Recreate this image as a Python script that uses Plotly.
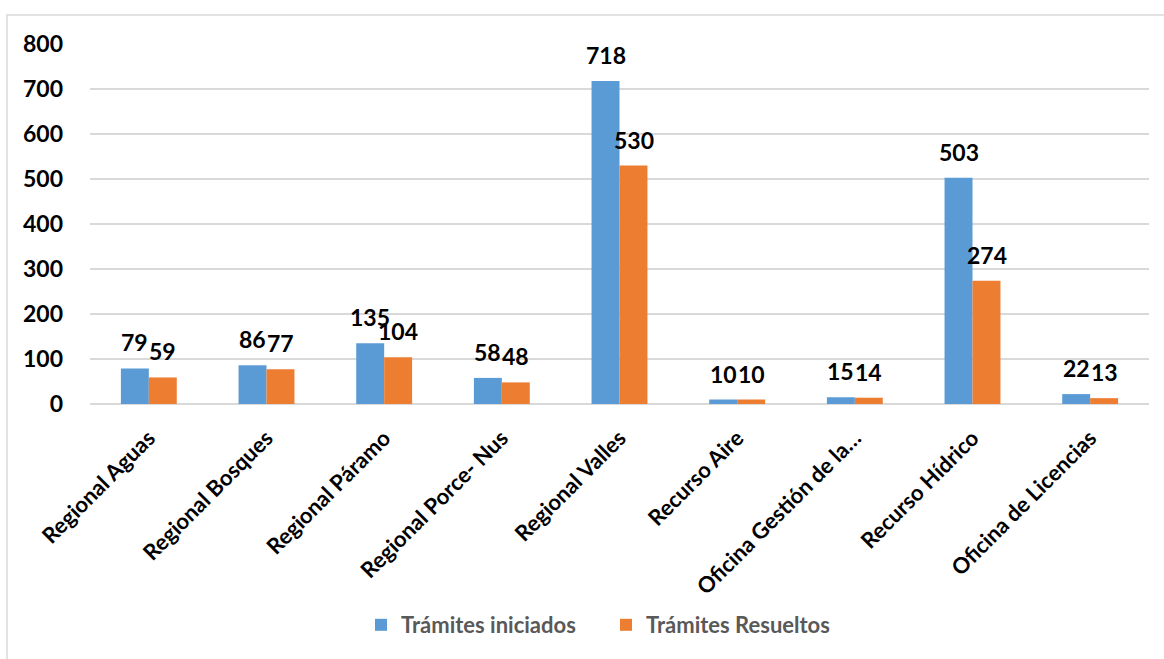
import plotly.graph_objects as go

categories = ["Regional Aguas", "Regional Bosques", "Regional Páramo", "Regional Porce- Nus",
              "Regional Valles", "Recurso Aire", "Oficina Gestión de la…", "Recurso Hídrico",
              "Oficina de Licencias"]
iniciados = [79, 86, 135, 58, 718, 10, 15, 503, 22]
resueltos = [59, 77, 104, 48, 530, 10, 14, 274, 13]
series_names = ["Trámites iniciados", "Trámites Resueltos"]
colors = ["#5B9BD5", "#ED7D31"]

FONT = "Lato"

fig = go.Figure()
fig.add_trace(go.Bar(x=categories, y=iniciados, name=series_names[0], marker_color=colors[0],
                     marker_line_width=0))
fig.add_trace(go.Bar(x=categories, y=resueltos, name=series_names[1], marker_color=colors[1],
                     marker_line_width=0))

annotations = []
for vals, xs in ((iniciados, -14), (resueltos, 14)):
    for c, v in zip(categories, vals):
        annotations.append(dict(x=c, y=v, text=str(v), showarrow=False, xshift=xs, yshift=10,
                                yanchor="bottom",
                                font=dict(family=FONT, size=23, color="#000000", weight="bold")))

# plot area px: x 90..1149, y 44..404
L, R, T, B = 90, 1149, 44, 404
W, H = R - L, B - T
def px(xp): return (xp - L) / W
def py(yp): return (B - yp) / H

fig.update_layout(
    width=1164, height=659,
    margin=dict(l=L, r=1164 - R, t=T, b=659 - B, autoexpand=False),
    paper_bgcolor="white", plot_bgcolor="white",
    barmode="group", bargap=0.525, bargroupgap=0,
    font=dict(family=FONT, color="#000000"),
    annotations=annotations,
    showlegend=True,
    legend=dict(orientation="h", x=px(361), xanchor="left", y=py(625), yanchor="middle",
                font=dict(family=FONT, size=22, color="#595959", weight="bold"),
                itemwidth=30, traceorder="normal", entrywidth=200),
    shapes=[dict(type="rect", xref="paper", yref="paper",
                 x0=px(7), x1=px(1170), y0=py(670), y1=py(15),
                 line=dict(color="#D9D9D9", width=1.5), fillcolor="rgba(0,0,0,0)", layer="below")],
    xaxis=dict(tickangle=-45, showgrid=False, showline=False, ticks="", automargin=False,
               tickfont=dict(family=FONT, size=22, color="#000000", weight="bold"),
               ticklabelstandoff=16),
    yaxis=dict(range=[0, 800], dtick=100, showgrid=True, gridcolor="#D9D9D9", gridwidth=1.5,
               zeroline=True, zerolinecolor="#D9D9D9", zerolinewidth=1.5, showline=False,
               automargin=False,
               ticks="", tickfont=dict(family=FONT, size=23, color="#000000", weight="bold"),
               ticklabelstandoff=26),
)

fig.write_html("out.html", config={"displayModeBar": False},
               post_script="document.body.style.margin='0px';document.body.style.overflow='hidden';")
